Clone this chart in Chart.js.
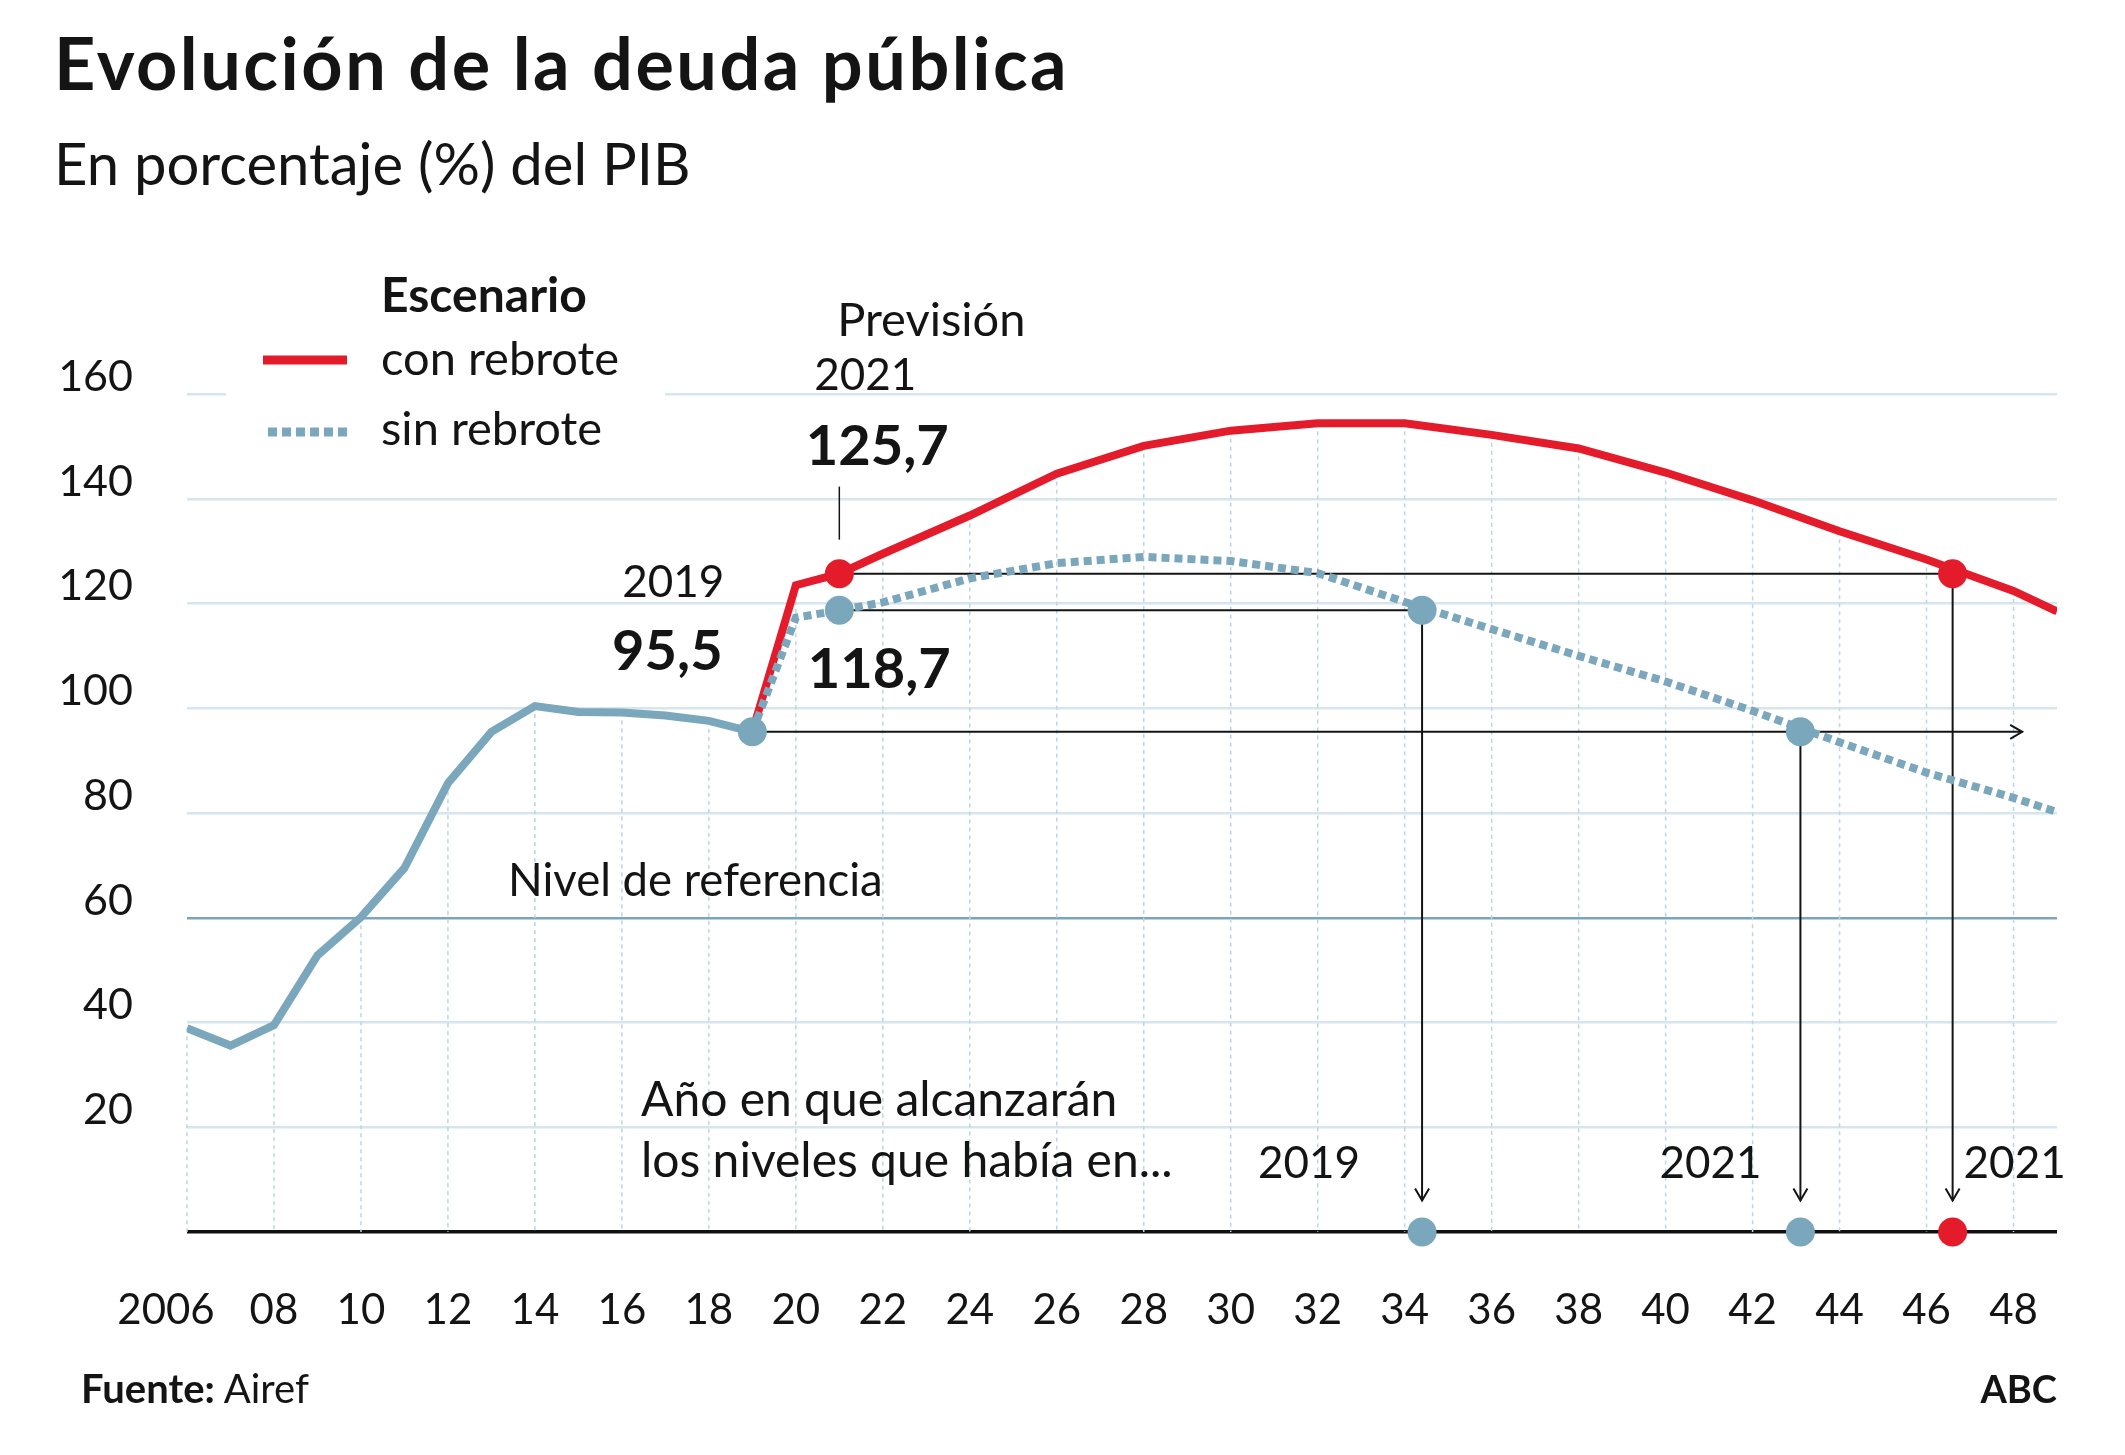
<!DOCTYPE html>
<html lang="es">
<head>
<meta charset="utf-8">
<title>Evolución de la deuda pública</title>
<script src="https://cdn.jsdelivr.net/npm/chart.js@4.4.1/dist/chart.umd.min.js"></script>
<style>
  html, body { margin: 0; padding: 0; background: #fff; }
  body { width: 2125px; height: 1455px; position: relative; overflow: hidden; font-family: Lato, "Noto Sans", sans-serif; color: #141414; }
  #chart { position: absolute; left: 0; top: 0; }
  .txt { position: absolute; line-height: 1; white-space: nowrap; }
  #title { left: 54px; top: 26px; font-size: 72px; font-weight: 700; letter-spacing: 2.5px; }
  #subtitle { left: 54px; top: 134px; font-size: 58px; }
  #source { left: 81px; top: 1368px; font-size: 40px; }
  #brand { right: 68px; top: 1369px; font-size: 38px; font-weight: 700; }
</style>
</head>
<body>
<canvas id="chart" width="2125" height="1455"></canvas>
<div id="title" class="txt">Evolución de la deuda pública</div>
<div id="subtitle" class="txt">En porcentaje (%) del PIB</div>
<div id="source" class="txt"><b>Fuente:</b> Airef</div>
<div id="brand" class="txt">ABC</div>
<script>
const RED = "#e31b2b";
const BLUE = "#7ba7bd";
const INK = "#141414";

// deuda pública, % del PIB
const histYears = [2006, 2007, 2008, 2009, 2010, 2011, 2012, 2013, 2014, 2015, 2016, 2017, 2018, 2019];
const histDebt  = [38.9, 35.6, 39.5, 52.8, 60.1, 69.5, 85.7, 95.5, 100.4, 99.3, 99.2, 98.6, 97.6, 95.5];

// previsión por escenario
const projYears  = [2019, 2020, 2021, 2022, 2024, 2026, 2028, 2030, 2032, 2034, 2036, 2038, 2040, 2042, 2044, 2046, 2048, 2049];
const conRebrote = [95.5, 123.5, 125.7, 129.5, 136.8, 144.8, 150.1, 153.0, 154.4, 154.4, 152.2, 149.6, 145.0, 139.7, 133.8, 128.4, 122.4, 118.5];
const sinRebrote = [95.5, 117.3, 118.7, 120.2, 124.8, 127.7, 128.9, 128.1, 125.8, 120.3, 115.1, 110.0, 105.1, 99.5, 93.5, 87.7, 82.9, 80.2];

// puntos destacados (2019 y 2021)
const keyYears  = [2019, 2021, 2021];
const keyLevels = [95.5, 125.7, 118.7];
const keyColors = [BLUE, RED, BLUE];

// año en que se vuelve a esos niveles
const reachFrom   = [2021, 2019, 2021];
const reachYears  = [2034.4, 2043.1, 2046.6];
const reachLevels = [118.7, 95.5, 125.7];
const reachColors = [BLUE, BLUE, RED];
const reachLabels = ["2019", "2021", "2021"];

const xTicks = [2006, 2008, 2010, 2012, 2014, 2016, 2018, 2020, 2022, 2024, 2026, 2028, 2030, 2032, 2034, 2036, 2038, 2040, 2042, 2044, 2046, 2048];
const xTickLabels = ["2006", "08", "10", "12", "14", "16", "18", "20", "22", "24", "26", "28", "30", "32", "34", "36", "38", "40", "42", "44", "46", "48"];
const yTicks = [0, 20, 40, 60, 80, 100, 120, 140, 160];
const refLevel = 60;

const pts = (xs, ys) => xs.map((x, i) => ({ x, y: ys[i] }));

const markerData = [
  ...pts(keyYears, keyLevels),
  ...pts(reachYears, reachLevels),
  ...reachYears.map(x => ({ x, y: 0 })),
];
const markerColors = [...keyColors, ...reachColors, ...reachColors];

function topValueAt(year) {
  let v = null;
  histYears.forEach((y, i) => { if (y === year) v = Math.max(v ?? -1, histDebt[i]); });
  projYears.forEach((y, i) => {
    if (y === year) v = Math.max(v ?? -1, conRebrote[i], sinRebrote[i]);
  });
  return v;
}

function text(ctx, s, x, y, size, bold, align) {
  ctx.font = `${bold ? 700 : 400} ${size}px Lato`;
  ctx.textAlign = align || "center";
  ctx.textBaseline = "alphabetic";
  ctx.fillStyle = INK;
  ctx.fillText(s, x, y);
}

function line(ctx, x1, y1, x2, y2) {
  ctx.beginPath();
  ctx.moveTo(x1, y1);
  ctx.lineTo(x2, y2);
  ctx.stroke();
}

const annotations = {
  id: "annotations",
  beforeDatasetsDraw(chart) {
    const { ctx, scales: { x, y } } = chart;
    ctx.save();
    // hueco de la leyenda sobre la línea de 160
    ctx.fillStyle = "#fff";
    ctx.fillRect(226, 384, 439, 20);

    // líneas verticales punteadas bajo la curva
    ctx.strokeStyle = "#bcd5e3";
    ctx.lineWidth = 1.5;
    ctx.setLineDash([4, 4]);
    xTicks.forEach(t => {
      const v = topValueAt(t);
      if (v == null) return;
      line(ctx, x.getPixelForValue(t), y.getPixelForValue(v), x.getPixelForValue(t), y.getPixelForValue(0));
    });
    ctx.setLineDash([]);

    // conectores
    ctx.strokeStyle = INK;
    ctx.lineWidth = 2;
    const tipY = y.getPixelForValue(6);
    reachYears.forEach((yr, i) => {
      const ly = y.getPixelForValue(reachLevels[i]);
      const rx = x.getPixelForValue(yr);
      const end = i === 1 ? x.getPixelForValue(2048.2) : rx;
      line(ctx, x.getPixelForValue(reachFrom[i]), ly, end, ly);
      line(ctx, rx, ly, rx, tipY);
      // punta hacia abajo
      ctx.beginPath();
      ctx.moveTo(rx - 7, tipY - 12);
      ctx.lineTo(rx, tipY);
      ctx.lineTo(rx + 7, tipY - 12);
      ctx.stroke();
      if (i === 1) {
        ctx.beginPath();
        ctx.moveTo(end - 12, ly - 7);
        ctx.lineTo(end, ly);
        ctx.lineTo(end - 12, ly + 7);
        ctx.stroke();
      }
    });
    // guía sobre el punto de 2021
    const gx = x.getPixelForValue(2021), gy = y.getPixelForValue(125.7);
    ctx.lineWidth = 1.5;
    line(ctx, gx, gy - 87, gx, gy - 34);
    ctx.restore();
  },
  afterDraw(chart) {
    const { ctx, scales: { x, y } } = chart;
    ctx.save();
    // leyenda
    text(ctx, "Escenario", 381, 312, 48, true, "left");
    ctx.lineWidth = 9;
    ctx.strokeStyle = RED;
    line(ctx, 263, 360, 347, 360);
    text(ctx, "con rebrote", 381, 375, 47, false, "left");
    ctx.strokeStyle = BLUE;
    ctx.setLineDash([9, 5]);
    line(ctx, 268, 432, 349, 432);
    ctx.setLineDash([]);
    text(ctx, "sin rebrote", 381, 445, 47, false, "left");

    // etiquetas de valores
    const x19 = x.getPixelForValue(2019), y19 = y.getPixelForValue(95.5);
    text(ctx, "2019", x19 - 79, y19 - 135, 44, false);
    text(ctx, "95,5", x19 - 85, y19 - 62, 56, true);
    const x21 = x.getPixelForValue(2021), yc = y.getPixelForValue(125.7), ys = y.getPixelForValue(118.7);
    text(ctx, "Previsión", x21 + 92, yc - 238, 47, false);
    text(ctx, "2021", x21 + 26, yc - 184, 44, false);
    text(ctx, "125,7", x21 + 38, yc - 109, 56, true);
    text(ctx, "118,7", x21 + 40, ys + 78, 56, true);

    text(ctx, "Nivel de referencia", 508, y.getPixelForValue(refLevel) - 22, 45.5, false, "left");
    text(ctx, "Año en que alcanzarán", 641, 1116, 48, false, "left");
    text(ctx, "los niveles que había en...", 641, 1177, 48, false, "left");
    const dx = [-113, -90, 62];
    reachYears.forEach((yr, i) => {
      text(ctx, reachLabels[i], x.getPixelForValue(yr) + dx[i], 1178, 44, false);
    });
    ctx.restore();
  }
};

Chart.defaults.font.family = "Lato";
Chart.defaults.color = INK;

new Chart(document.getElementById("chart"), {
  type: "line",
  data: {
    datasets: [
      {
        label: "puntos",
        type: "scatter",
        data: markerData,
        pointRadius: 14.5,
        pointHoverRadius: 14.5,
        pointBackgroundColor: markerColors,
        pointBorderWidth: 0,
        showLine: false,
        clip: false,
        order: 0,
      },
      {
        label: "sin rebrote",
        data: pts(projYears, sinRebrote),
        borderColor: BLUE,
        borderWidth: 8,
        borderDash: [8, 5],
        pointRadius: 0,
        order: 1,
      },
      {
        label: "con rebrote",
        data: pts(projYears, conRebrote),
        borderColor: RED,
        borderWidth: 8,
        pointRadius: 0,
        order: 2,
      },
      {
        label: "histórico",
        data: pts(histYears, histDebt),
        borderColor: BLUE,
        borderWidth: 8,
        pointRadius: 0,
        order: 3,
      },
    ],
  },
  options: {
    responsive: false,
    animation: false,
    events: [],
    layout: { padding: { left: 0, right: 68, top: 394, bottom: 0 } },
    plugins: { legend: { display: false }, tooltip: { enabled: false } },
    scales: {
      x: {
        type: "linear",
        min: 2006,
        max: 2049,
        afterFit: s => { s.height = 223; },
        afterBuildTicks: s => { s.ticks = xTicks.map(v => ({ value: v })); },
        grid: { display: false },
        border: { display: false },
        ticks: {
          padding: 45,
          font: { size: 42 },
          color: INK,
          autoSkip: false,
          maxRotation: 0,
          // el primer rótulo va algo desplazado a la izquierda
          callback: v => v === 2006 ? "2006\u2002\u2002" : (xTickLabels[xTicks.indexOf(v)] ?? ""),
        },
      },
      y: {
        min: 0,
        max: 160,
        afterFit: s => { s.width = 187; },
        afterBuildTicks: s => { s.ticks = yTicks.map(v => ({ value: v })); },
        grid: {
          drawTicks: false,
          color: c => c.tick.value === 0 ? "#111" : c.tick.value === refLevel ? "#7aa5bc" : "#d6e6ef",
          lineWidth: c => c.tick.value === 0 ? 3.5 : 2.5,
        },
        border: { display: false },
        ticks: {
          padding: 54,
          labelOffset: -17,
          font: { size: 43 },
          color: INK,
          callback: v => v === 0 ? "" : String(v),
        },
      },
    },
  },
  plugins: [annotations],
});
</script>
</body>
</html>
